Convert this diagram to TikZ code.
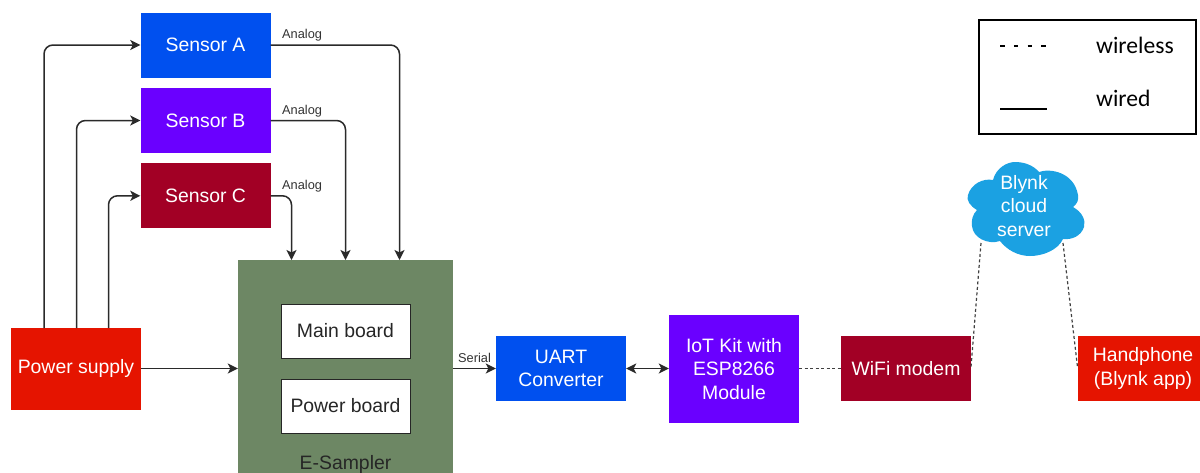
\documentclass[tikz,border=0pt]{standalone}
\usepackage{fontspec}
\setmainfont{Liberation Sans}
\newfontfamily\legendfont{Carlito}
\usetikzlibrary{arrows.meta}
\definecolor{cblue}{HTML}{0050EF}
\definecolor{cviolet}{HTML}{6A00FF}
\definecolor{ccrimson}{HTML}{A20025}
\definecolor{cred}{HTML}{E51400}
\definecolor{cgreen}{HTML}{6D8764}
\definecolor{ccloud}{HTML}{1BA1E2}
\definecolor{cwire}{HTML}{2A2A2A}
\tikzset{
  tip/.tip={Stealth[length=10pt,width=10pt,inset=2.5pt]},
  blockbox/.style={minimum width=130pt,minimum height=65pt,inner sep=0pt,align=center,text=white,
    font=\fontsize{19.4}{23.5}\selectfont},
  whitebox/.style={draw=black!85,line width=1pt,fill=white,minimum width=129pt,minimum height=54pt,inner sep=0pt,
    font=\fontsize{19.4}{23.5}\selectfont,text=black!85},
  sig/.style={font=\fontsize{12.8}{15}\selectfont,text=black!80,inner sep=0pt},
  wire/.style={draw=cwire,line width=1.5pt,rounded corners=9pt},
  arrowwire/.style={wire,-tip},
  bothwire/.style={wire,tip-tip},
  dashwire/.style={draw=black!75,line width=1.2pt,dash pattern=on 3pt off 2.5pt},
  legendtext/.style={font=\legendfont\fontsize{23.6}{28}\selectfont,text=black,inner sep=0pt,anchor=west}
}
\begin{document}
\begin{tikzpicture}[x=1pt,y=-1pt]
\clip (0,0) rectangle (1200,472);
\fill[white] (0,0) rectangle (1200,472);
% blocks
\node[blockbox,fill=cblue] (sa) at (205.5,45) {Sensor A};
\node[blockbox,fill=cviolet] (sb) at (205.5,120.5) {Sensor B};
\node[blockbox,fill=ccrimson] (sc) at (205.5,195.8) {Sensor C};
\node[blockbox,fill=cred,minimum height=82pt] (ps) at (76,368.5) {\raisebox{-1pt}{Power supply}};
\node[fill=cgreen,minimum width=215pt,minimum height=240pt,inner sep=0pt] (es) at (345.5,380) {};
\node[font=\fontsize{19.4}{23.5}\selectfont,text=black!85,inner sep=0pt] (est) at (345.5,464) {E-Sampler};
\node[whitebox] (mb) at (345.5,331) {Main board};
\node[whitebox] (pb) at (345.5,406) {Power board};
\node[blockbox,fill=cblue] (ua) at (561,368.5) {UART\\Converter};
\node[blockbox,fill=cviolet,minimum height=108pt] (io) at (734,369) {IoT Kit with\\ESP8266\\Module};
\node[blockbox,fill=ccrimson] (wf) at (906,368.5) {WiFi modem};
\node[blockbox,fill=cred] (hp) at (1143,368.5) {Handphone\\(Blynk app)};
% cloud outline
\fill[ccloud] (993,180)
  .. controls (996,168) and (1007,162) .. (1015,162)
  .. controls (1024,162) and (1033,165) .. (1039,172)
  .. controls (1050,168) and (1074,172) .. (1078,195)
  .. controls (1079,200) and (1077,204) .. (1073,207)
  .. controls (1082,212) and (1086,220) .. (1084,227)
  .. controls (1081,236) and (1072,240) .. (1063,239)
  .. controls (1058,250) and (1043,256) .. (1030,256)
  .. controls (1018,256) and (1007,250) .. (1000,241)
  .. controls (988,245) and (973,238) .. (972,226)
  .. controls (971,220) and (973,214) .. (977,210)
  .. controls (970,206) and (966,200) .. (968,195)
  .. controls (971,184) and (983,178) .. (993,180) -- cycle;
\node[align=center,text=white,inner sep=0pt,font=\fontsize{19.4}{23.5}\selectfont] (clt) at (1024,206) {Blynk\\cloud\\server};
% anchors for connector ends
\coordinate (p1) at (44,328);
\coordinate (p2) at (76.5,328);
\coordinate (p3) at (108.5,328);
\coordinate (ea) at (399.5,260);
\coordinate (eb) at (345.5,260);
\coordinate (ec) at (291.5,260);
\coordinate (cll) at (981,243);
\coordinate (clr) at (1063,243);
\coordinate (wfe) at (971,367);
\coordinate (hpe) at (1077.5,367);
% connectors
\draw[arrowwire] (p1) |- (sa.west);
\draw[arrowwire] (p2) |- (sb.west);
\draw[arrowwire] (p3) |- (sc.west);
\draw[arrowwire] (sa.east) -| (ea);
\draw[arrowwire] (sb.east) -| (eb);
\draw[arrowwire] (sc.east) -| (ec);
\draw[arrowwire] (ps.east) -- (ps.east -| es.west);
\draw[arrowwire] (es.east |- ua.west) -- (ua.west);
\draw[bothwire] (ua.east) -- (ua.east -| io.west);
\draw[dashwire] (io.east |- wf.west) -- (wf.west);
\draw[dashwire] (cll) -- (wfe);
\draw[dashwire] (clr) -- (hpe);
% labels
\node[sig,anchor=west] (la) at (282,35) {Analog};
\node[sig,anchor=west] (lb) at (282,111) {Analog};
\node[sig,anchor=west] (lc) at (282,186.5) {Analog};
\node[sig,anchor=west] (ls) at (458,357.5) {Serial};
% legend
\node[draw=black,line width=1.6pt,minimum width=217pt,minimum height=114pt,inner sep=0pt] (lg) at (1087.5,77) {};
\node[legendtext] (lw1) at (1096,45.5) {wireless};
\node[legendtext] (lw2) at (1096,98.5) {wired};
\coordinate (d1) at (1000,46);
\coordinate (d2) at (1046,46);
\coordinate (s1) at (1000,109);
\coordinate (s2) at (1047,109);
\draw[black,line width=1.2pt,dash pattern=on 4.5pt off 9.3pt] (d1) -- (d2);
\draw[black,line width=1.2pt] (s1) -- (s2);
\end{tikzpicture}
\end{document}
